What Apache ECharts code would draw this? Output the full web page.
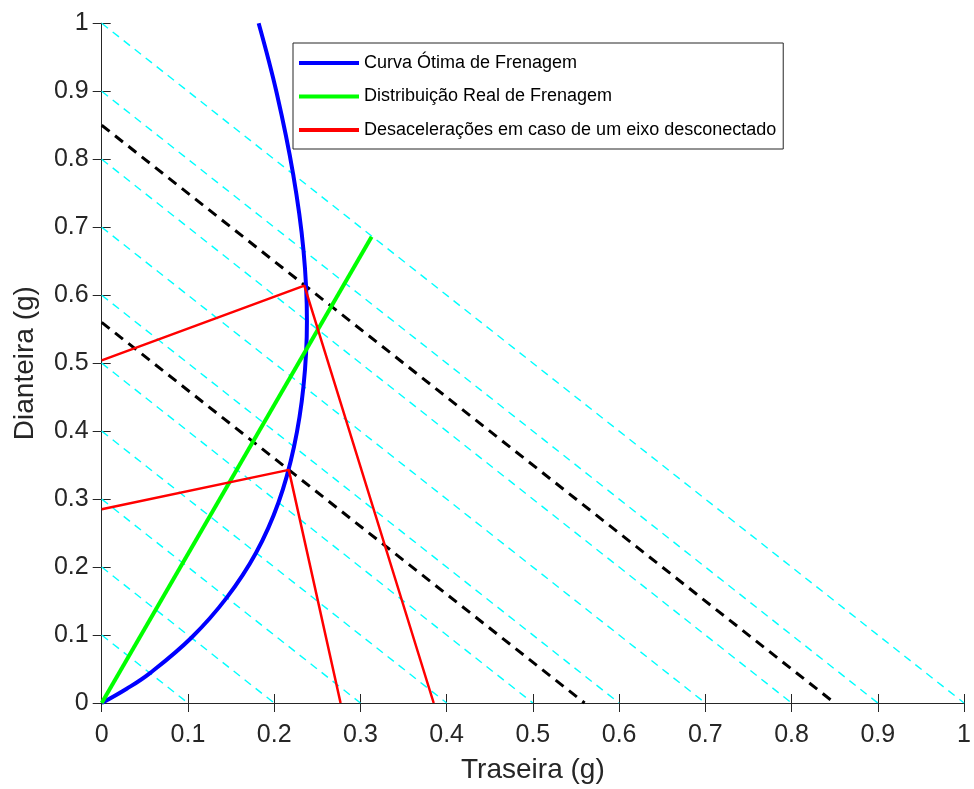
<!DOCTYPE html>
<html>
<head>
<meta charset="utf-8">
<title>Curva de Frenagem</title>
<script src="https://cdn.jsdelivr.net/npm/echarts@6/dist/echarts.min.js"></script>
<style>
  html, body { margin: 0; padding: 0; background: #fff; }
  #chart { width: 974px; height: 789px; }
</style>
</head>
<body>
<div id="chart"></div>
<script>
// curva ótima (traseira, dianteira)
const curvaOtima = [
  [0, 0], [0.029, 0.021], [0.056, 0.044], [0.104, 0.096], [0.145, 0.155],
  [0.179, 0.221], [0.205, 0.295], [0.223, 0.377], [0.234, 0.466],
  [0.238, 0.562], [0.234, 0.666], [0.222, 0.778], [0.203, 0.897], [0.182, 1.0]
]
// distribuição real (reta)
const distribReal = [[0, 0], [0.313, 0.686]]
// desacelerações com um eixo desconectado
const desacAlta = [[0, 0.504], [0.235, 0.614], [0.385, 0]]
const desacBaixa = [[0, 0.285], [0.217, 0.343], [0.277, 0]]
// linhas de desaceleração constante (x + y = z)
const niveisCiano = [0.1, 0.2, 0.3, 0.4, 0.5, 0.6, 0.7, 0.8, 0.9, 1.0]
const niveisPretos = [0.56, 0.85]

const nomes = ['Curva Ótima de Frenagem', 'Distribuição Real de Frenagem', 'Desacelerações em caso de um eixo desconectado']
const axisColor = '#262626'
const fontFam = '"Liberation Sans", Arial, sans-serif'

const chart = echarts.init(document.getElementById('chart'))

const series = []
niveisCiano.forEach(z => {
  series.push({
    type: 'line', silent: true, symbol: 'none', z: 1,
    data: [[0, z], [z, 0]],
    lineStyle: { color: '#00FFFF', width: 1.4, type: [8, 6] }
  })
})
niveisPretos.forEach(z => {
  series.push({
    type: 'line', silent: true, symbol: 'none', z: 2,
    data: [[0, z], [z, 0]],
    lineStyle: { color: '#000', width: 3, type: [10, 7] }
  })
})
series.push({
  name: nomes[0], type: 'line', symbol: 'none', smooth: 0.4, z: 3,
  data: curvaOtima, color: '#0000FF',
  lineStyle: { color: '#0000FF', width: 4 }
})
series.push({
  name: nomes[1], type: 'line', symbol: 'none', z: 4,
  data: distribReal, color: '#00FF00',
  lineStyle: { color: '#00FF00', width: 4 }
})
;[desacAlta, desacBaixa].forEach(d => {
  series.push({
    name: nomes[2], type: 'line', symbol: 'none', z: 5,
    data: d, color: '#FF0000',
    lineStyle: { color: '#FF0000', width: 2.5 }
  })
})

const option = {
  animation: false,
  backgroundColor: '#fff',
  grid: { left: 101.7, right: 6.3, top: 23.3, bottom: 82.3, containLabel: false },
  legend: {
    data: nomes,
    orient: 'vertical',
    left: 293, top: 43,
    icon: 'rect',
    itemWidth: 60, itemHeight: 4,
    itemGap: 11.5,
    padding: [9, 7, 8, 6],
    borderColor: axisColor, borderWidth: 1,
    backgroundColor: '#fff',
    textStyle: { fontFamily: fontFam, fontSize: 18, color: '#000', lineHeight: 22 }
  },
  xAxis: [
    {
      type: 'value', min: 0, max: 1, interval: 0.1,
      name: 'Traseira (g)', nameLocation: 'middle', nameGap: 53,
      nameTextStyle: { fontFamily: fontFam, fontSize: 28, color: axisColor },
      axisLine: { lineStyle: { color: axisColor, width: 1 } },
      axisTick: { inside: true, length: 9, lineStyle: { color: axisColor } },
      axisLabel: { fontFamily: fontFam, fontSize: 25, color: axisColor, margin: 20 },
      splitLine: { show: false }
    },
    {
      type: 'value', min: 0, max: 1, interval: 0.1, position: 'top',
      axisLine: { lineStyle: { color: axisColor, width: 1 } },
      axisTick: { inside: true, length: 9, lineStyle: { color: axisColor } },
      axisLabel: { show: false },
      splitLine: { show: false }
    }
  ],
  yAxis: [
    {
      type: 'value', min: 0, max: 1, interval: 0.1,
      name: 'Dianteira (g)', nameLocation: 'middle', nameGap: 62,
      nameTextStyle: { fontFamily: fontFam, fontSize: 28, color: axisColor },
      axisLine: { show: true, lineStyle: { color: axisColor, width: 1 } },
      axisTick: { show: true, inside: true, length: 9, lineStyle: { color: axisColor } },
      axisLabel: { fontFamily: fontFam, fontSize: 25, color: axisColor, margin: 13 },
      splitLine: { show: false }
    },
    {
      type: 'value', min: 0, max: 1, interval: 0.1, position: 'right',
      axisLine: { show: true, lineStyle: { color: axisColor, width: 1 } },
      axisTick: { show: true, inside: true, length: 9, lineStyle: { color: axisColor } },
      axisLabel: { show: false },
      splitLine: { show: false }
    }
  ],
  series: series
}
chart.setOption(option)
</script>
</body>
</html>
